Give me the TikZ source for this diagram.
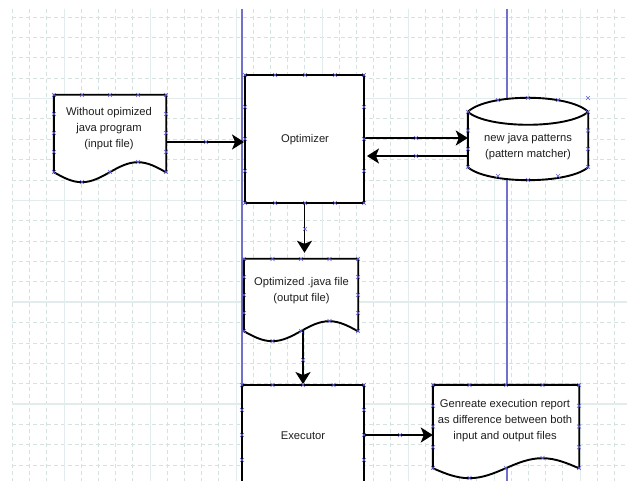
\documentclass[tikz,border=0pt]{standalone}
\usepackage{fontspec}
\setmainfont{Liberation Sans}
\usetikzlibrary{arrows.meta,calc}
\definecolor{gridminorc}{RGB}{212,226,226}
\definecolor{gridmajorc}{RGB}{226,236,236}
\definecolor{guidec}{RGB}{112,112,205}
\definecolor{cpc}{RGB}{95,95,225}
\definecolor{txtc}{RGB}{30,30,30}
\newcommand\cpmark[2]{\draw[cpm] ({#1-2},{#2-2}) -- ({#1+2},{#2+2}) ({#1-2},{#2+2}) -- ({#1+2},{#2-2});}
\tikzset{
  gridminor/.style={draw=gridminorc, line width=0.8pt, dash pattern=on 4pt off 3pt},
  gridmajor/.style={draw=gridmajorc, line width=1.4pt},
  guide/.style={draw=guidec, line width=1.3pt},
  shp/.style={draw=black, line width=1.9pt, line join=miter},
  boxshape/.style={shp, rectangle, inner sep=0pt, fill=white},
  area/.style={rectangle, draw=none, inner sep=0pt},
  arr/.style={draw=black, line width=1.9pt, -{Stealth[length=12pt,width=15pt,inset=3pt]}},
  cpm/.style={draw=cpc, line width=0.6pt},
  lbl/.style={align=center, inner sep=0pt, text=txtc, font=\fontsize{11.2}{16}\selectfont}
}
\begin{document}
\begin{tikzpicture}[x=1pt,y=-1pt]
\useasboundingbox (0,0) rectangle (627,481);
\clip (0,0) rectangle (627,481);
\fill[white] (0,0) rectangle (627,481);
% grid
\foreach \k in {0,...,35} {\draw[gridminor] ({12.4+17.2*\k},9) -- ({12.4+17.2*\k},481);}
\foreach \k in {0,...,22} {\draw[gridminor] (12,{17+20.37*\k}) -- (627,{17+20.37*\k});}
\foreach \k in {0,...,6} {\draw[gridmajor] ({64.3+86*\k},9) -- ({64.3+86*\k},481);}
\foreach \k in {0,...,3} {\draw[gridmajor] (12,{98.5+101.85*\k}) -- (627,{98.5+101.85*\k});}
\draw[guide] (242,9) -- (242,481);
\draw[guide] (507,9) -- (507,481);

% shapes
\node[area, minimum width=112, minimum height=77] (d1) at (110,133.5) {};
\fill[white] (d1.south east) -- (d1.north east) -- (d1.north west) -- (d1.south west) sin ++(28,10) cos ++(28,-10) sin ++(28,-10) cos ++(28,10) -- cycle;
\draw[shp] (d1.south east) -- (d1.north east) -- (d1.north west) -- (d1.south west) sin ++(28,10) cos ++(28,-10) sin ++(28,-10) cos ++(28,10) -- cycle;
\node[lbl] (d1t) at (109,129) {Without opimized\\java program\\(input file)};

\node[boxshape, minimum width=119, minimum height=128] (opt) at (304.5,139) {};
\node[lbl] (optt) at (305,140) {Optimizer};

\node[area, minimum width=120, minimum height=82] (cyl) at (528,139) {};
\coordinate (ctl) at ($(cyl.north west)+(0,14)$);
\coordinate (ctr) at ($(cyl.north east)+(0,14)$);
\coordinate (cbl) at ($(cyl.south west)+(0,-13)$);
\coordinate (cbr) at ($(cyl.south east)+(0,-13)$);
\fill[white] (ctl) .. controls +(20,-18.7) and +(-20,-18.7) .. (ctr) -- (cbr) .. controls +(-20,17.3) and +(20,17.3) .. (cbl) -- cycle;
\draw[shp] (ctl) .. controls +(20,-18.7) and +(-20,-18.7) .. (ctr);
\draw[shp] (ctl) .. controls +(20,17.3) and +(-20,17.3) .. (ctr);
\draw[shp] (ctl) -- (cbl) .. controls +(20,17.3) and +(-20,17.3) .. (cbr) -- (ctr);
\node[lbl] (cylt) at (528,147) {new java patterns\\(pattern matcher)};

\node[area, minimum width=114, minimum height=72] (d2) at (301,295) {};
\fill[white] (d2.south east) -- (d2.north east) -- (d2.north west) -- (d2.south west) sin ++(28.5,10) cos ++(28.5,-10) sin ++(28.5,-10) cos ++(28.5,10) -- cycle;
\draw[shp] (d2.south east) -- (d2.north east) -- (d2.north west) -- (d2.south west) sin ++(28.5,10) cos ++(28.5,-10) sin ++(28.5,-10) cos ++(28.5,10) -- cycle;
\node[lbl] (d2t) at (301.5,291) {Optimized .java file\\(output file)};

\node[boxshape, minimum width=122, minimum height=100] (exec) at (303,435) {};
\node[lbl] (exect) at (303,436) {Executor};

\node[area, minimum width=146, minimum height=83] (d3) at (506,426.5) {};
\fill[white] (d3.south east) -- (d3.north east) -- (d3.north west) -- (d3.south west) sin ++(36.5,10) cos ++(36.5,-10) sin ++(36.5,-10) cos ++(36.5,10) -- cycle;
\draw[shp] (d3.south east) -- (d3.north east) -- (d3.north west) -- (d3.south west) sin ++(36.5,10) cos ++(36.5,-10) sin ++(36.5,-10) cos ++(36.5,10) -- cycle;
\node[lbl] (d3t) at (505,420.5) {Genreate execution report\\as difference between both\\input and output files};

% connectors
\coordinate (a1) at ([yshift=-3pt]opt.west);
\draw[arr] (d1.east |- a1) -- (a1);
\coordinate (a2) at ([yshift=1pt]opt.east);
\draw[arr] (a2) -- (a2 -| cyl.west);
\coordinate (a3) at ([yshift=-17pt]cyl.west);
\draw[arr, shorten >=2pt] (a3) -- (a3 -| opt.east);
\draw[arr, shorten >=6pt] (opt.south) -- (opt.south |- d2.north);
\draw[arr] (d2.south -| exec.north) -- (exec.north);
\draw[arr] (exec.east) -- (exec.east -| d3.west);

% connection point markers
\foreach \x in {54,82,110,138,166} {\cpmark{\x}{95}}
\foreach \y in {114,133,152,172} {\cpmark{54}{\y}\cpmark{166}{\y}}
\cpmark{82}{182}\cpmark{110}{172}\cpmark{138}{162}
\cpmark{206}{142}
\foreach \x in {245,275,305,335,364} {\cpmark{\x}{75}\cpmark{\x}{203}}
\foreach \y in {107,139,171} {\cpmark{245}{\y}\cpmark{364}{\y}}
\foreach \y in {112,130.5,149,167} {\cpmark{468}{\y}\cpmark{588}{\y}}
\cpmark{498}{100}\cpmark{528}{98}\cpmark{558}{100}\cpmark{588}{98}
\cpmark{498}{176}\cpmark{528}{180}\cpmark{558}{176}
\cpmark{416}{138}\cpmark{416}{156}
\cpmark{305}{229}
\foreach \x in {244,272.5,301,329.5,358} {\cpmark{\x}{259}}
\foreach \y in {277,295,313,331} {\cpmark{244}{\y}\cpmark{358}{\y}}
\cpmark{272.5}{341}\cpmark{301}{331}\cpmark{329.5}{321}
\cpmark{303}{360}
\foreach \x in {242,272.5,303,333.5,364} {\cpmark{\x}{385}}
\foreach \y in {410,435,460} {\cpmark{242}{\y}\cpmark{364}{\y}}
\cpmark{400}{435}
\foreach \x in {433,469.5,506,542.5,579} {\cpmark{\x}{385}}
\foreach \y in {405.75,426.5,447.25,468} {\cpmark{433}{\y}\cpmark{579}{\y}}
\cpmark{469.5}{478}\cpmark{506}{468}\cpmark{542.5}{458}
\end{tikzpicture}
\end{document}
